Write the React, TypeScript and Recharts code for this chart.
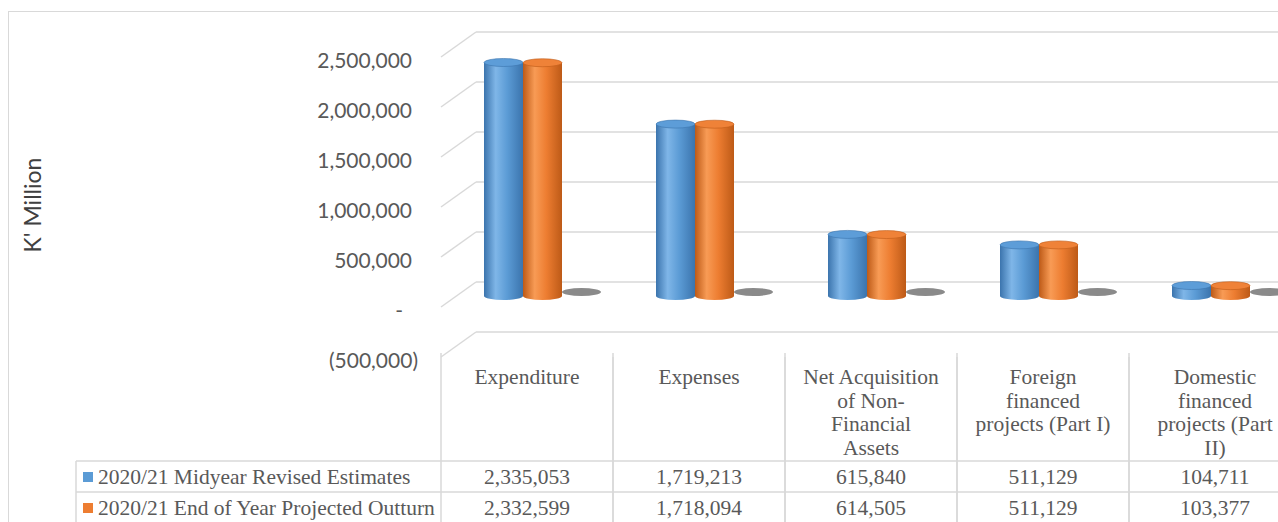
import React from "react";
import { ComposedChart, Bar, XAxis, YAxis, CartesianGrid } from "recharts";

// categories and header lines as they wrap in the data table
const categories = [
  "Expenditure",
  "Expenses",
  "Net Acquisition of Non-Financial Assets",
  "Foreign financed projects (Part I)",
  "Domestic financed projects (Part II)",
];
const categoryLines = [
  ["Expenditure"],
  ["Expenses"],
  ["Net Acquisition", "of Non-", "Financial", "Assets"],
  ["Foreign", "financed", "projects (Part I)"],
  ["Domestic", "financed", "projects (Part", "II)"],
];

const midyearRevised = [2335053, 1719213, 615840, 511129, 104711];
const endOfYearOutturn = [2332599, 1718094, 614505, 511129, 103377];
// third (grey) series, practically zero in the picture
const variance = [2454, 1119, 1335, 0, 1334];

const seriesNames = [
  "2020/21 Midyear Revised Estimates",
  "2020/21 End of Year Projected Outturn",
];
const yTicks = [-500000, 0, 500000, 1000000, 1500000, 2000000, 2500000];

const data = categories.map((name, i) => ({
  name,
  mid: midyearRevised[i],
  end: endOfYearOutturn[i],
  diff: variance[i],
}));

const CHART_W = 1310;
const CHART_H = 522;
const AXIS_W = 441;
const MARGIN_R = 9;
const BAND = (CHART_W - AXIS_W - MARGIN_R) / categories.length;

// fake 3D depth
const BACK_DX = 35;
const BACK_DY = -25;
const MID_DX = 15;
const MID_DY = -11;
const RY = 4;

const GRID = "#d9d9d9";
const TEXT = "#595959";
const SERIF = "'Liberation Serif', 'Times New Roman', serif";
const SANS = "Lato, 'Open Sans', sans-serif";
const TABLE_FONT = 21.5;

const palettes: Record<string, any> = {
  mid: { base: "#5b9bd5", light: "#7fb6e8", edge: "#3b74ad", top: "#5d9dd8" },
  end: { base: "#ed7d31", light: "#f89b55", edge: "#bd5a17", top: "#ef8238" },
  diff: { base: "#8a8a8a", light: "#9a9a9a", edge: "#6e6e6e", top: "#858585" },
};

const fmt = (v: number) => v.toLocaleString("en-US");

function Cylinder(props: any) {
  const { x, y, width, height, index, seriesKey } = props;
  if (x == null || y == null) return null;
  const p = palettes[seriesKey];
  const left = x + MID_DX;
  const top = y + MID_DY;
  const h = Math.max(height || 0, 0);
  const cx = left + width / 2;
  const rx = width / 2;
  if (h < 2) {
    return <ellipse cx={cx} cy={top + h - 4} rx={rx} ry={RY} fill={p.base} />;
  }
  const gid = `cyl-${seriesKey}-${index}`;
  return (
    <g>
      <defs>
        <linearGradient id={gid} x1="0" x2="1" y1="0" y2="0">
          <stop offset="0" stopColor={p.edge} />
          <stop offset="0.3" stopColor={p.light} />
          <stop offset="0.6" stopColor={p.base} />
          <stop offset="1" stopColor={p.edge} />
        </linearGradient>
      </defs>
      <ellipse cx={cx} cy={top + h} rx={rx} ry={RY} fill={`url(#${gid})`} />
      <rect x={left} y={top} width={width} height={h} fill={`url(#${gid})`} />
      <ellipse cx={cx} cy={top} rx={rx} ry={RY} fill={p.top} stroke={p.edge} strokeWidth={0.6} />
    </g>
  );
}

function GridLine(props: any) {
  const { x1, x2, y1 } = props;
  const bx = x1 + BACK_DX;
  const by = y1 + BACK_DY;
  return (
    <g key={props.key}>
      <line x1={x1} y1={y1} x2={bx} y2={by} stroke={GRID} strokeWidth={1.5} />
      <line x1={bx} y1={by} x2={x2 + 40} y2={by} stroke={GRID} strokeWidth={1.5} />
    </g>
  );
}

function YTick(props: any) {
  const { y, payload } = props;
  const v = payload.value as number;
  let label = fmt(v);
  let ax = 412;
  if (v < 0) {
    label = `(${fmt(-v)})`;
    ax = 418;
  } else if (v === 0) {
    label = "-";
    ax = 403;
  }
  return (
    <text x={ax} y={y + 2} textAnchor="end" dominantBaseline="central" fill={TEXT} fontFamily={SANS} fontSize={21}>
      {label}
    </text>
  );
}

const ROW_TOP = 461;
const ROW_H = 31;
const TABLE_TOP = 357;

function TableTick(props: any) {
  const { x, index } = props;
  const lines = categoryLines[index];
  const l = x - BAND / 2;
  const r = x + BAND / 2;
  const rows = [midyearRevised[index], endOfYearOutturn[index]];
  return (
    <g>
      <line x1={l} y1={TABLE_TOP - 4} x2={l} y2={CHART_H} stroke={GRID} strokeWidth={1.5} />
      <line x1={r} y1={TABLE_TOP} x2={r} y2={CHART_H} stroke={GRID} strokeWidth={1.5} />
      <line x1={l} y1={ROW_TOP} x2={r} y2={ROW_TOP} stroke={GRID} strokeWidth={1.5} />
      <line x1={l} y1={ROW_TOP + ROW_H} x2={r} y2={ROW_TOP + ROW_H} stroke={GRID} strokeWidth={1.5} />
      <text textAnchor="middle" fill={TEXT} fontFamily={SERIF} fontSize={TABLE_FONT}>
        {lines.map((s, i) => (
          <tspan key={i} x={x} y={TABLE_TOP + 27 + i * 23.5}>
            {s}
          </tspan>
        ))}
      </text>
      {rows.map((v, i) => (
        <text key={i} x={x} y={ROW_TOP + i * ROW_H + 23} textAnchor="middle" fill={TEXT} fontFamily={SERIF} fontSize={TABLE_FONT}>
          {fmt(v)}
        </text>
      ))}
      {index === 0 && (
        <g>
          <line x1={76} y1={ROW_TOP} x2={l} y2={ROW_TOP} stroke={GRID} strokeWidth={1.5} />
          <line x1={76} y1={ROW_TOP + ROW_H} x2={l} y2={ROW_TOP + ROW_H} stroke={GRID} strokeWidth={1.5} />
          <line x1={76} y1={ROW_TOP} x2={76} y2={CHART_H} stroke={GRID} strokeWidth={1.5} />
          {seriesNames.map((s, i) => (
            <g key={s}>
              <rect x={83} y={ROW_TOP + i * ROW_H + 11} width={10} height={10} fill={i === 0 ? palettes.mid.base : palettes.end.base} />
              <text x={98} y={ROW_TOP + i * ROW_H + 23} fill={TEXT} fontFamily={SERIF} fontSize={TABLE_FONT}>
                {s}
              </text>
            </g>
          ))}
        </g>
      )}
    </g>
  );
}

export default function App() {
  return (
    <div style={{ position: "absolute", left: 0, top: 0, width: 1278, height: 522, overflow: "hidden", background: "#fff" }}>
      <div style={{ position: "absolute", left: 8, top: 11, width: 1400, height: 600, border: `1.5px solid ${GRID}` }} />
      <div style={{ position: "absolute", left: 0, top: 0 }}>
        <ComposedChart
          width={CHART_W}
          height={CHART_H}
          data={data}
          margin={{ top: 57, right: MARGIN_R, bottom: 0, left: 0 }}
          barCategoryGap={28}
          barGap={0}
        >
          <CartesianGrid vertical={false} horizontal={(p: any) => <GridLine {...p} />} />
          <XAxis dataKey="name" height={165} axisLine={false} tickLine={false} interval={0} tick={(p: any) => <TableTick {...p} />} />
          <YAxis
            width={AXIS_W}
            domain={[-500000, 2500000]}
            ticks={yTicks}
            axisLine={false}
            tickLine={false}
            tick={(p: any) => <YTick {...p} />}
            label={{
              content: () => (
                <text
                  x={32}
                  y={205}
                  transform="rotate(-90 32 205)"
                  textAnchor="middle"
                  dominantBaseline="central"
                  fill="#404040"
                  fontFamily={SANS}
                  fontSize={23}
                >
                  K' Million
                </text>
              ),
            }}
          />
          <Bar dataKey="mid" name={seriesNames[0]} isAnimationActive={false} shape={(p: any) => <Cylinder {...p} seriesKey="mid" />} />
          <Bar dataKey="end" name={seriesNames[1]} isAnimationActive={false} shape={(p: any) => <Cylinder {...p} seriesKey="end" />} />
          <Bar dataKey="diff" name="Variance" isAnimationActive={false} shape={(p: any) => <Cylinder {...p} seriesKey="diff" />} />
        </ComposedChart>
      </div>
    </div>
  );
}
